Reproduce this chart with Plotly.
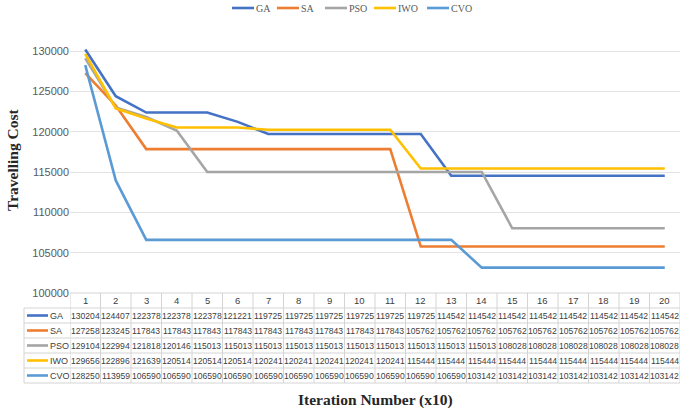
import plotly.graph_objects as go

iterations = list(range(1, 21))
series_names = ["GA", "SA", "PSO", "IWO", "CVO"]
ga = [130204, 124407, 122378, 122378, 122378, 121221, 119725, 119725, 119725, 119725,
      119725, 119725, 114542, 114542, 114542, 114542, 114542, 114542, 114542, 114542]
sa = [127258, 123245, 117843, 117843, 117843, 117843, 117843, 117843, 117843, 117843,
      117843, 105762, 105762, 105762, 105762, 105762, 105762, 105762, 105762, 105762]
pso = [129104, 122994, 121818, 120146, 115013, 115013, 115013, 115013, 115013, 115013,
       115013, 115013, 115013, 115013, 108028, 108028, 108028, 108028, 108028, 108028]
iwo = [129656, 122896, 121639, 120514, 120514, 120514, 120241, 120241, 120241, 120241,
       120241, 115444, 115444, 115444, 115444, 115444, 115444, 115444, 115444, 115444]
cvo = [128250, 113959, 106590, 106590, 106590, 106590, 106590, 106590, 106590, 106590,
       106590, 106590, 106590, 103142, 103142, 103142, 103142, 103142, 103142, 103142]
y_ticks = [100000, 105000, 110000, 115000, 120000, 125000, 130000]
colors = ["#4472C4", "#ED7D31", "#A5A5A5", "#FFC000", "#5B9BD5"]
all_series = [ga, sa, pso, iwo, cvo]

W, H = 690, 408
ML, MR, MT, MB = 70, 10, 43, 115
PH = H - MT - MB
PW = W - ML - MR
BOTTOM = H - MB


def py(p):
    """pixel y -> paper y"""
    return (BOTTOM - p) / PH


def px(p):
    """pixel x -> paper x"""
    return (p - ML) / PW


fig = go.Figure()
for name, vals, col in zip(series_names, all_series, colors):
    fig.add_trace(go.Scatter(x=iterations, y=vals, mode="lines", name=name,
                             line=dict(color=col, width=2.6)))

shapes = []
annotations = []
grid = "#d4d4d4"
txt = "#404040"

# table geometry
row_edges = [293, 308, 323, 338, 353, 368, 383]
label_left = 24
for i, yb in enumerate(row_edges):
    if i == 0:
        shapes.append(dict(type="line", xref="x", yref="paper", x0=0.5, x1=20.5,
                           y0=py(yb), y1=py(yb), line=dict(color=grid, width=1)))
    else:
        shapes.append(dict(type="line", xref="paper", yref="paper", x0=px(label_left), x1=1,
                           y0=py(yb), y1=py(yb), line=dict(color=grid, width=1)))
for k in range(21):
    shapes.append(dict(type="line", xref="x", yref="paper", x0=0.5 + k, x1=0.5 + k,
                       y0=py(row_edges[0]), y1=py(row_edges[-1]), line=dict(color=grid, width=1)))
shapes.append(dict(type="line", xref="paper", yref="paper", x0=px(label_left), x1=px(label_left),
                   y0=py(row_edges[1]), y1=py(row_edges[-1]), line=dict(color=grid, width=1)))

for it in iterations:
    annotations.append(dict(x=it, y=py((row_edges[0] + row_edges[1]) / 2), xref="x", yref="paper",
                            text=str(it), showarrow=False, xanchor="center", yanchor="middle",
                            font=dict(size=9.5, color=txt, family="Liberation Sans")))
for r, (name, vals, col) in enumerate(zip(series_names, all_series, colors)):
    yc = (row_edges[r + 1] + row_edges[r + 2]) / 2
    shapes.append(dict(type="line", xref="paper", yref="paper", x0=px(27), x1=px(48),
                       y0=py(yc), y1=py(yc), line=dict(color=col, width=2.6)))
    annotations.append(dict(x=px(47.5), y=py(yc), xref="paper", yref="paper", text=name,
                            showarrow=False, xanchor="left", yanchor="middle",
                            font=dict(size=9, color=txt, family="Liberation Sans")))
    for it, v in zip(iterations, vals):
        annotations.append(dict(x=it, y=py(yc), xref="x", yref="paper", text=str(v),
                                showarrow=False, xanchor="center", yanchor="middle",
                                font=dict(size=8.6, color=txt, family="Liberation Sans")))

leg_x = [232, 277, 325, 374, 427]
for name, col, lx in zip(series_names, colors, leg_x):
    shapes.append(dict(type="line", xref="paper", yref="paper", x0=px(lx), x1=px(lx + 22),
                       y0=py(8), y1=py(8), line=dict(color=col, width=2.6)))
    annotations.append(dict(x=px(lx + 22), y=py(8), xref="paper", yref="paper", text=name,
                            showarrow=False, xanchor="left", yanchor="middle",
                            font=dict(size=10, color="#595959", family="Liberation Serif")))

annotations.append(dict(x=px(375), y=py(400), xref="paper", yref="paper",
                        text="<b>Iteration Number (x10)</b>", showarrow=False,
                        xanchor="center", yanchor="middle",
                        font=dict(size=15.5, color="#262626", family="Liberation Serif")))
annotations.append(dict(x=px(12), y=py(160), xref="paper", yref="paper",
                        text="<b>Travelling Cost</b>", showarrow=False, textangle=-90,
                        xanchor="center", yanchor="middle",
                        font=dict(size=15.5, color="#262626", family="Liberation Serif")))

fig.update_layout(
    width=W, height=H,
    margin=dict(l=ML, r=MR, t=MT, b=MB),
    paper_bgcolor="white", plot_bgcolor="white",
    showlegend=False,
    shapes=shapes, annotations=annotations,
    xaxis=dict(range=[0.5, 20.5], showticklabels=False, showgrid=False, zeroline=False,
               showline=False, ticks=""),
    yaxis=dict(range=[100000, 131000], tickvals=y_ticks, tickformat="d", showgrid=True,
               gridcolor="#e3e3e3", gridwidth=1, zeroline=False, showline=False, ticks="",
               automargin=False,
               tickfont=dict(size=11, color="#595959", family="Liberation Sans")),
)

fig.write_html("out.html", config={"displayModeBar": False},
               post_script="document.body.style.margin='0';")
